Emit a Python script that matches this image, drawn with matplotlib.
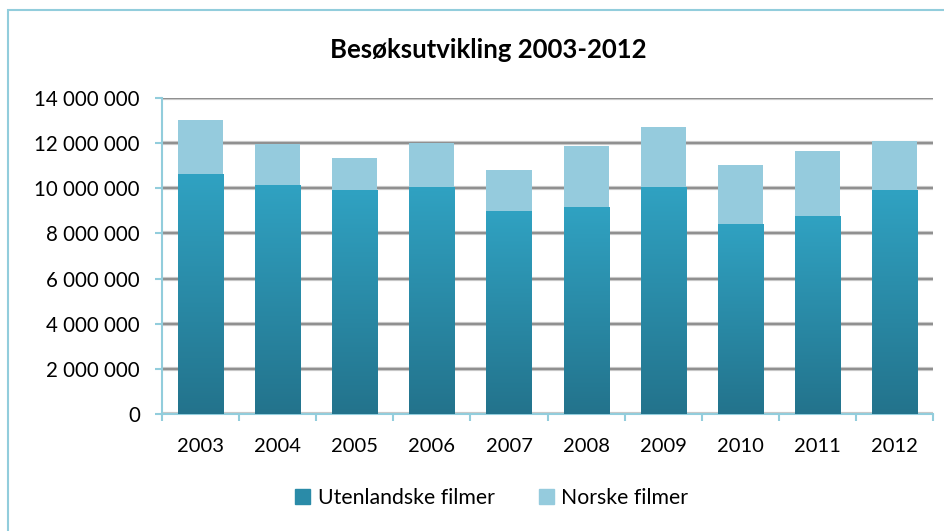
import numpy as np
import matplotlib
matplotlib.use('Agg')
import matplotlib.pyplot as plt
from matplotlib.patches import Rectangle, Patch
from matplotlib.ticker import FuncFormatter, FixedLocator

plt.rcParams['font.family'] = ['Lato', 'DejaVu Sans']

years = ['2003', '2004', '2005', '2006', '2007', '2008', '2009', '2010', '2011', '2012']
utenlandske = [10630000, 10150000, 9920000, 10060000, 9010000, 9170000, 10060000, 8420000, 8770000, 9920000]
norske = [2400000, 1810000, 1420000, 1960000, 1800000, 2700000, 2660000, 2610000, 2880000, 2180000]

dark_top = np.array([0x30, 0xa2, 0xc2]) / 255
dark_bot = np.array([0x23, 0x73, 0x8c]) / 255
light = '#95cbdd'
axis_blue = '#92cddc'

fig = plt.figure(figsize=(9.44, 5.31), dpi=100)
ax = fig.add_axes([0.1716, 0.2203, 0.8168, 0.5951])

x = np.arange(len(years))
w = 0.585
bars1 = ax.bar(x, utenlandske, w, color='#2a8ba8', zorder=3, label='Utenlandske filmer')
bars2 = ax.bar(x, norske, w, bottom=utenlandske, color=light, zorder=3, label='Norske filmer')

# vertical gradient on the lower series
grad = np.linspace(0, 1, 256)[:, None, None]
img = dark_top * (1 - grad) + dark_bot * grad
for b in bars1:
    x0, y0 = b.get_x(), b.get_y()
    im = ax.imshow(img, extent=[x0, x0 + b.get_width(), y0, y0 + b.get_height()],
                   aspect='auto', zorder=4, origin='upper')
    im.set_clip_path(b)

ax.set_xlim(-0.5, len(years) - 0.5)
ax.set_ylim(0, 14000000)
ax.set_yticks(np.arange(0, 14000001, 2000000))
ax.yaxis.set_major_formatter(FuncFormatter(lambda v, p: f'{int(v):,}'.replace(',', ' ')))
ax.set_xticks(x)
ax.set_xticklabels(years)
ax.xaxis.set_minor_locator(FixedLocator(np.arange(-0.5, len(years), 1.0)))

ax.tick_params(axis='x', which='major', length=0, pad=17, labelsize=14.5)
ax.tick_params(axis='x', which='minor', length=5, width=1.5, color=axis_blue)
ax.tick_params(axis='y', length=5, width=1.5, color=axis_blue, pad=11, labelsize=14.8)

for s in ['top', 'right']:
    ax.spines[s].set_visible(False)
for s in ['left', 'bottom']:
    ax.spines[s].set_color(axis_blue)
    ax.spines[s].set_linewidth(1.5)

ax.yaxis.grid(True, color='#c8c8c8', linewidth=3, zorder=1)
for v in ax.get_yticks()[1:]:
    ax.axhline(v, color='#8a8a8a', linewidth=1.3, zorder=2)

fig.text(0.5175, 0.905, 'Besøksutvikling 2003-2012', ha='center', va='center',
         fontsize=18.5, fontweight='bold')

handles = [Patch(color='#2a8ba8'), Patch(color=light)]
fig.legend(handles, ['Utenlandske filmer', 'Norske filmer'], loc='center',
           bbox_to_anchor=(0.521, 0.063), ncol=2, frameon=False, fontsize=15.3,
           handlelength=0.7, handleheight=0.7, handletextpad=0.35, columnspacing=2.1)

fig.add_artist(Rectangle((8 / 944, -0.1), 1.2, 1.1 - 10 / 531, transform=fig.transFigure,
                         fill=False, edgecolor=axis_blue, linewidth=1.5))

fig.savefig('out.png', dpi=100)
